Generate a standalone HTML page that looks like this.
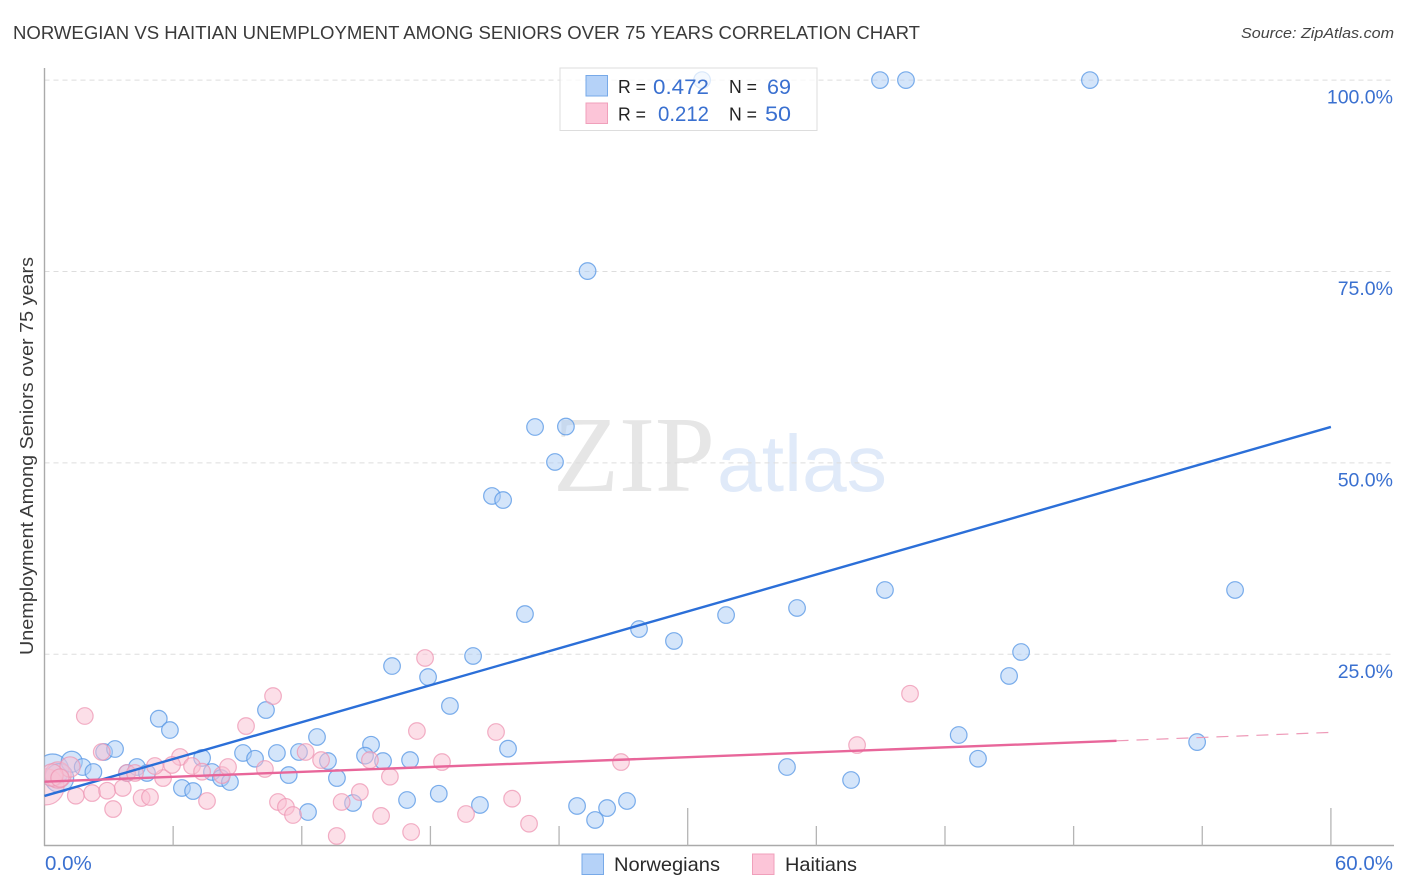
<!DOCTYPE html>
<html lang="en">
<head>
<meta charset="utf-8">
<title>Norwegian vs Haitian Unemployment Among Seniors over 75 Years Correlation Chart</title>
<style>
  html, body { margin: 0; padding: 0; background: #fff; }
  svg { display: block; font-family: "Liberation Sans", sans-serif; }
</style>
</head>
<body>
<svg id="chart" xmlns="http://www.w3.org/2000/svg" width="1406" height="892" viewBox="0 0 1406 892">
  <defs>
    <clipPath id="plot-clip"><rect x="44.5" y="60" width="1350" height="785.5"/></clipPath>
  </defs>
  <rect x="0" y="0" width="1406" height="892" fill="#ffffff"/>
  <text x="13" y="39" font-size="18.5" fill="#3a3a3a" textLength="907" lengthAdjust="spacingAndGlyphs">NORWEGIAN VS HAITIAN UNEMPLOYMENT AMONG SENIORS OVER 75 YEARS CORRELATION CHART</text>
  <text x="1394" y="38" font-size="15" font-style="italic" fill="#444" text-anchor="end" textLength="153" lengthAdjust="spacingAndGlyphs">Source: ZipAtlas.com</text>

  <g>
    <text x="553" y="491" font-family="'Liberation Serif', serif" font-size="108" fill="#e6e6e6" textLength="162" lengthAdjust="spacingAndGlyphs">ZIP</text>
    <text x="717" y="491" font-size="80" fill="#e0eaf9" textLength="170" lengthAdjust="spacingAndGlyphs">atlas</text>
  </g>

  <g id="grid"></g>
  <g id="axes"></g>
  <g id="points" clip-path="url(#plot-clip)"></g>
  <g id="trends"></g>
  <g id="labels"></g>

  <text transform="translate(33,456) rotate(-90)" font-size="18.5" fill="#3a3a3a" text-anchor="middle" textLength="398" lengthAdjust="spacingAndGlyphs">Unemployment Among Seniors over 75 years</text>

  <g>
    <rect x="560" y="68" width="257" height="62.5" fill="#ffffff" fill-opacity="0.72" stroke="#dddddd" stroke-width="1"/>
    <rect x="586" y="75.5" width="21.5" height="20.5" fill="#b5d2f8" stroke="#77a9e8"/>
    <rect x="586" y="103" width="21.5" height="20.5" fill="#fcc5d8" stroke="#f0a0bb"/>
    <text x="618" y="93" font-size="18.5" fill="#222" textLength="28" lengthAdjust="spacingAndGlyphs">R =</text>
    <text x="653" y="94" font-size="21" fill="#3a70d0" textLength="56" lengthAdjust="spacingAndGlyphs">0.472</text>
    <text x="729" y="93" font-size="18.5" fill="#222" textLength="28" lengthAdjust="spacingAndGlyphs">N =</text>
    <text x="767" y="94" font-size="21" fill="#3a70d0" textLength="24" lengthAdjust="spacingAndGlyphs">69</text>
    <text x="618" y="120.5" font-size="18.5" fill="#222" textLength="28" lengthAdjust="spacingAndGlyphs">R =</text>
    <text x="658" y="121" font-size="21" fill="#3a70d0" textLength="51" lengthAdjust="spacingAndGlyphs">0.212</text>
    <text x="729" y="120.5" font-size="18.5" fill="#222" textLength="28" lengthAdjust="spacingAndGlyphs">N =</text>
    <text x="765" y="121" font-size="21" fill="#3a70d0" textLength="26" lengthAdjust="spacingAndGlyphs">50</text>
  </g>

  <g>
    <g>
      <rect x="582" y="854" width="21.5" height="20.5" fill="#b5d2f8" stroke="#77a9e8"/>
      <text x="614" y="871" font-size="19.5" fill="#2a2a2a" textLength="106" lengthAdjust="spacingAndGlyphs">Norwegians</text>
    </g>
    <g>
      <rect x="752.5" y="854" width="21.5" height="20.5" fill="#fcc5d8" stroke="#f0a0bb"/>
      <text x="785" y="871" font-size="19.5" fill="#2a2a2a" textLength="72" lengthAdjust="spacingAndGlyphs">Haitians</text>
    </g>
  </g>
</svg>

<script>
const yTickValues = [25, 50, 75, 100];
const yTickLabels = ["25.0%", "50.0%", "75.0%", "100.0%"];
const xTickValues = [0, 6, 12, 18, 24, 30, 36, 42, 48, 54, 60];
const xEndLabels = ["0.0%", "60.0%"];

const norwegianX = [0.38,0.69,1.27,1.78,2.28,2.78,3.29,3.85,4.31,4.78,7.35,6.41,6.93,7.81,8.23,8.65,5.33,5.85,10.33,12.71,9.26,9.82,10.84,11.87,13.22,11.39,13.64,12.29,14.39,16.91,18.39,15.23,14.95,15.79,17.05,18.91,17.89,21.62,20.31,24.84,25.68,26.24,27.17,34.63,37.62,55.53,45.55,44.99,42.64,43.54,53.76,16.21,19.99,22.41,27.73,29.36,31.79,35.10,39.20,20.87,21.39,23.81,22.88,24.32,25.33,30.67,38.97,40.18,48.76];
const norwegianY = [9.89,8.84,10.97,10.28,9.63,12.24,12.63,9.50,10.28,9.50,11.46,7.54,7.14,9.63,8.84,8.32,16.59,15.11,17.72,14.20,12.11,11.36,12.11,12.24,11.06,9.23,8.84,4.40,5.58,5.97,6.79,13.19,11.76,11.06,11.19,18.25,22.03,12.67,5.32,5.19,3.36,4.92,5.84,10.28,8.58,33.40,25.30,22.17,14.46,11.36,13.54,23.47,24.78,30.26,28.30,26.74,30.13,31.05,33.40,45.68,45.15,50.12,54.69,54.75,75.06,100,100,100,100];
const norwegianWeight = [3.7,3,1.6];

const haitianX = [0.07,0.63,1.19,0.35,0.72,1.46,2.22,2.92,3.65,3.20,2.67,4.53,4.92,7.58,5.53,5.15,6.32,5.95,6.88,7.35,3.85,4.22,8.28,8.56,1.88,10.66,9.40,17.37,12.18,12.90,10.28,15.18,16.11,18.54,10.89,11.26,11.59,13.86,14.71,15.70,13.63,17.10,19.66,21.06,21.81,22.60,26.89,37.90,40.37,17.75];
const haitianY = [7.68,9.23,10.28,9.23,8.84,6.53,6.88,7.18,7.54,4.79,12.24,6.23,6.36,5.84,8.84,10.41,11.59,10.55,10.41,9.67,9.50,9.50,9.23,10.28,16.94,19.55,15.63,14.98,12.24,11.19,10.02,11.19,9.01,10.93,5.71,5.07,4.01,5.71,7.01,3.89,1.27,1.79,4.14,14.85,6.14,2.87,10.93,13.15,19.85,24.52];
const haitianWeight = [4.7,2.5,1.5,1.8,1.2];

const norwegianTrendX = [0, 60];
const norwegianTrendY = [6.5, 54.7];
const haitianSolidX = [0, 50];
const haitianSolidY = [8.36, 13.7];
const haitianDashX = [50, 60];
const haitianDashY = [13.7, 14.8];

const NS = "http://www.w3.org/2000/svg";
function xScale(v) { return 44.5 + v * 21.44; }
function yScale(v) { return 845.7 - v * 7.656; }
function radius(w) { return 8.3 * Math.sqrt(w || 1); }
function make(tag, attrs, parent) {
  const el = document.createElementNS(NS, tag);
  for (const k in attrs) el.setAttribute(k, attrs[k]);
  parent.appendChild(el);
  return el;
}

const grid = document.getElementById("grid");
const axes = document.getElementById("axes");
const pointsG = document.getElementById("points");
const trends = document.getElementById("trends");
const labels = document.getElementById("labels");

yTickValues.forEach(function (v, i) {
  const line = make("line", { x1: 44.5, x2: 1394, y1: yScale(v), y2: yScale(v), stroke: "#dddddd", "stroke-width": 1, "stroke-dasharray": "5 4" }, grid);
  
  
  const label = make("text", { x: 1393, y: yScale(v) + 23.5, "font-size": 19.5, fill: "#3a70d0", "text-anchor": "end" }, labels);
  label.textContent = yTickLabels[i];
  
  
});

const yAxisLine = make("line", { x1: 44.5, x2: 44.5, y1: 68, y2: 846, stroke: "#aaaaaa", "stroke-width": 1.4 }, axes);


const xAxisLine = make("line", { x1: 44, x2: 1394, y1: 845.5, y2: 845.5, stroke: "#aaaaaa", "stroke-width": 1.4 }, axes);



xTickValues.forEach(function (v, i) {
  if (i === 0) return;
  const major = i % 5 === 0;
  const tick = make("line", { x1: xScale(v), x2: xScale(v), y1: major ? 808 : 826, y2: 845.5, stroke: "#b5b5b5", "stroke-width": 1.3 }, axes);
  
  
});

const xLabelStart = make("text", { x: 45, y: 870, "font-size": 20.5, fill: "#3a70d0" }, labels);
xLabelStart.textContent = xEndLabels[0];


const xLabelEnd = make("text", { x: 1393, y: 870, "font-size": 20.5, fill: "#3a70d0", "text-anchor": "end" }, labels);
xLabelEnd.textContent = xEndLabels[1];



norwegianX.forEach(function (v, i) {
  const c = make("circle", { cx: xScale(v), cy: yScale(norwegianY[i]), r: radius(norwegianWeight[i]), fill: "#a9cbf6", "fill-opacity": 0.5, stroke: "#5b9ae6", "stroke-opacity": 0.8, "stroke-width": 1.2 }, pointsG);
  
  
});
haitianX.forEach(function (v, i) {
  const c = make("circle", { cx: xScale(v), cy: yScale(haitianY[i]), r: radius(haitianWeight[i]), fill: "#f9bfd2", "fill-opacity": 0.5, stroke: "#ee95b3", "stroke-opacity": 0.75, "stroke-width": 1.2 }, pointsG);
  
  
});

const blueLine = make("line", { x1: xScale(norwegianTrendX[0]), x2: xScale(norwegianTrendX[1]), y1: yScale(norwegianTrendY[0]), y2: yScale(norwegianTrendY[1]), stroke: "#2b6fd8", "stroke-width": 2.4 }, trends);


const pinkLine = make("line", { x1: xScale(haitianSolidX[0]), x2: xScale(haitianSolidX[1]), y1: yScale(haitianSolidY[0]), y2: yScale(haitianSolidY[1]), stroke: "#e8669a", "stroke-width": 2.4 }, trends);


const pinkDash = make("line", { x1: xScale(haitianDashX[0]), x2: xScale(haitianDashX[1]), y1: yScale(haitianDashY[0]), y2: yScale(haitianDashY[1]), stroke: "#ee9ab8", "stroke-width": 1.2, "stroke-dasharray": "12 8" }, trends);


</script>
</body>
</html>
